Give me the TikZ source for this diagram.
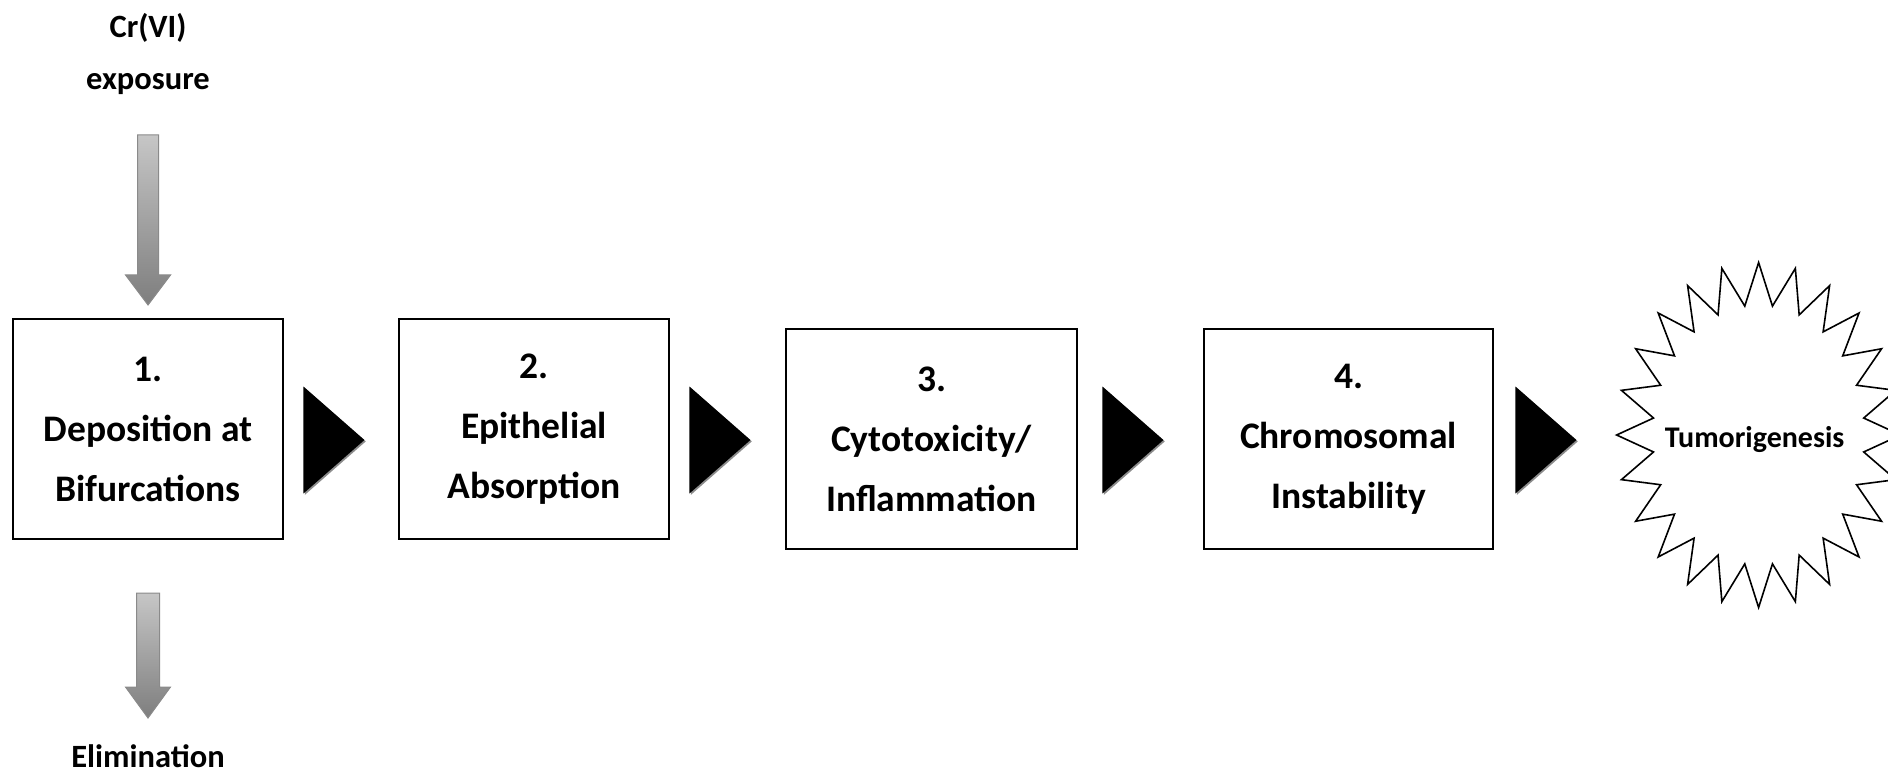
\documentclass[tikz,border=0pt]{standalone}
\usepackage{fontspec}
\setmainfont{Carlito}
\usetikzlibrary{calc,positioning,shapes.geometric,shadows}
\definecolor{ArrowLight}{HTML}{C6C6C6}
\definecolor{ArrowDark}{HTML}{7E7E7E}
\definecolor{ArrowEdge}{HTML}{8A8A8A}
\tikzset{
  stage/.style={draw=black,line width=1pt,fill=white,align=center,minimum height=110pt,inner sep=0pt,font=\fontsize{18.75pt}{30pt}\selectfont\bfseries},
  chevron/.style={shape=isosceles triangle,isosceles triangle stretches,fill=black,minimum width=53.5pt,minimum height=30.5pt,inner sep=0pt,drop shadow={shadow xshift=0.7pt,shadow yshift=-0.7pt,fill=black!45,opacity=1}},
  sidelabel/.style={align=center,inner sep=0pt,font=\fontsize{16.25pt}{26pt}\selectfont\bfseries},
  grayarrow/.style={top color=ArrowLight,bottom color=ArrowDark,draw=ArrowEdge,line width=0.5pt},
  burst/.style={draw=black,line width=0.8pt,line join=miter}
}

\begin{document}
\begin{tikzpicture}[x=0.5pt,y=0.5pt]
  \useasboundingbox (0,0) rectangle (1888,772);

  % pathway stages
  \node[stage,minimum width=135pt] (b1) at (148,343) {1.\\Deposition at\\Bifurcations};
  \node[stage,minimum width=135pt,right=57pt of b1] (b2) {2.\\Epithelial\\Absorption};
  \node[stage,minimum width=145.5pt,right=57.5pt of b2,yshift=-5pt] (b3) {3.\\Cytotoxicity/\\Inflammation};
  \node[stage,minimum width=144.5pt,right=62.5pt of b3] (b4) {4.\\Chromosomal\\Instability};

  \node[chevron,right=9.5pt of b1,yshift=-5.5pt] (t1) {};
  \node[chevron,right=9.5pt of b2,yshift=-5.5pt] (t2) {};
  \node[chevron,right=12pt of b3,yshift=-0.5pt] (t3) {};
  \node[chevron,right=10.5pt of b4,yshift=-0.5pt] (t4) {};

  \node[font=\fontsize{15pt}{18pt}\selectfont\bfseries,inner sep=0pt,right=43.5pt of t4] (tumor) {Tumorigenesis};
  \draw[burst,shift={($(tumor.center)+(2pt,2.5pt)$)}] (0:71pt and 86.25pt)
    \foreach \k in {1,...,47} { -- ({7.5*\k}:{71pt-18pt*mod(\k,2)} and {86.25pt-21.25pt*mod(\k,2)}) } -- cycle;

  % intake and clearance
  \node[sidelabel,above=111.5pt of b1] (expo) {Cr(VI)\\exposure};
  \node[sidelabel,below=102pt of b1] (elim) {Elimination};
  \coordinate (inTop) at ($(expo.south)+(0,-20pt)$);
  \coordinate (inTip) at ($(b1.north)+(0,6.5pt)$);
  \coordinate (outTop) at ($(b1.south)+(0,-26.5pt)$);
  \coordinate (outTip) at ($(elim.north)+(0,13pt)$);
  \draw[grayarrow] let \p1=(inTop), \p2=(inTip) in
    (\x1-5.25pt,\y1) -- (\x1+5.25pt,\y1) -- (\x1+5.25pt,\y2+15pt) -- (\x1+11.25pt,\y2+15pt)
    -- (\x1,\y2) -- (\x1-11.25pt,\y2+15pt) -- (\x1-5.25pt,\y2+15pt) -- cycle;
  \draw[grayarrow] let \p1=(outTop), \p2=(outTip) in
    (\x1-5.75pt,\y1) -- (\x1+5.75pt,\y1) -- (\x1+5.75pt,\y2+15.5pt) -- (\x1+11.25pt,\y2+15.5pt)
    -- (\x1,\y2) -- (\x1-11.25pt,\y2+15.5pt) -- (\x1-5.75pt,\y2+15.5pt) -- cycle;
\end{tikzpicture}
\end{document}
